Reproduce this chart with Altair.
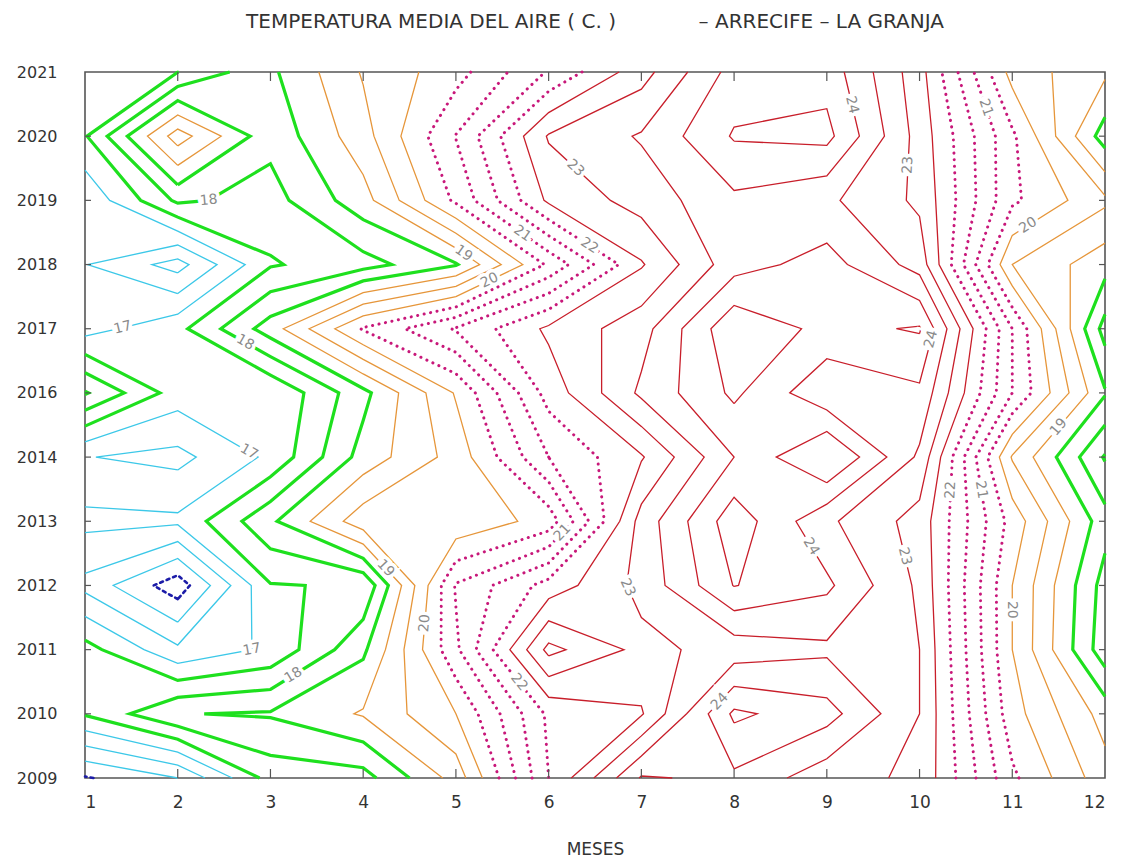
import json, math
from collections import defaultdict
import numpy as np
import pandas as pd
import altair as alt

# ---------------- data ----------------
MONTHS = [1, 2, 3, 4, 5, 6, 7, 8, 9, 10, 11, 12]
YEARS = ["2009", "2010", "2011", "2012", "2013", "2014",
         "2016", "2017", "2018", "2019", "2020", "2021"]

T2009 = [15.45, 16.0, 17.7, 17.8, 19.2, 22.0, 24.05, 23.9, 23.2, 22.9, 20.6, 19.2]
T2010 = [17.55, 18.48, 18.55, 19.05, 20.0, 22.1, 22.45, 24.6, 24.2, 23.0, 20.2, 18.8]
T2011 = [17.7, 16.6, 17.1, 18.4, 20.9, 23.65, 22.85, 23.2, 23.4, 23.0, 20.0, 17.7]
T2012 = [16.35, 15.2, 17.47, 17.55, 21.05, 22.2, 23.15, 24.52, 24.1, 22.9, 20.0, 17.8]
T2013 = [17.14, 17.1, 18.4, 19.8, 19.6, 20.2, 23.2, 24.8, 23.6, 22.8, 20.3, 18.2]
T2014 = [16.52, 16.35, 17.1, 18.7, 19.7, 21.5, 22.45, 24.0, 25.1, 23.4, 19.45, 17.45]
T2016 = [18.55, 17.25, 17.02, 18.35, 20.05, 22.2, 23.6, 24.6, 23.6, 23.9, 21.0, 18.55]
T2017 = [16.8, 17.35, 18.75, 20.55, 21.55, 22.6, 23.3, 24.9, 24.35, 24.55, 21.0, 17.8]
T2018 = [16.52, 15.8, 17.45, 17.8, 18.45, 20.6, 22.45, 23.8, 24.2, 23.3, 19.5, 18.7]
T2019 = [16.6, 18.1, 17.8, 18.8, 20.6, 22.6, 23.2, 23.9, 23.6, 22.9, 20.6, 19.6]
T2020 = [17.45, 19.75, 18.15, 19.3, 21.02, 23.05, 23.55, 24.55, 24.65, 22.8, 20.6, 18.25]
T2021 = [17.2, 17.49, 18.4, 19.55, 20.3, 21.55, 22.8, 24.2, 24.3, 22.7, 19.8, 19.1]

ROWS = [T2009, T2010, T2011, T2012, T2013, T2014,
        T2016, T2017, T2018, T2019, T2020, T2021]

LEVELS = [15.5, 16.0, 16.5, 17.0, 17.5, 18.0, 18.5, 19.0, 19.5, 20.0,
          20.5, 21.0, 21.5, 22.0, 22.5, 23.0, 23.5, 24.0, 24.5]

# labelled contours: (level, month position, year-row position)
LABELS = [
    (18, 2.35, 8.93), (17, 1.40, 7.06), (18, 2.73, 6.79), (17, 3.00, 5.66),
    (19, 5.07, 8.15), (20, 5.37, 7.73), (21, 5.80, 8.66), (22, 6.50, 8.43),
    (23, 6.37, 9.63), (24, 9.28, 10.49), (23, 9.90, 9.55), (21, 10.95, 10.56),
    (20, 11.10, 8.77), (24, 10.17, 6.82), (19, 11.54, 5.42), (22, 10.31, 4.49),
    (21, 10.66, 4.49), (23, 9.68, 3.40), (24, 8.80, 3.58), (20, 11.14, 2.62),
    (17, 3.00, 1.92), (18, 3.29, 1.50), (19, 4.16, 3.16), (20, 4.59, 2.42),
    (21, 6.23, 3.71), (23, 6.90, 3.00), (22, 5.67, 1.48), (24, 7.92, 1.09),
]

NB = "\u00a0"
TITLE = "TEMPERATURA MEDIA DEL AIRE ( C. )" + NB * 13 + "\u2013 ARRECIFE \u2013 LA GRANJA"
FONT = "DejaVu Sans"
W, H = 1020, 706

STYLE = {  # group: (color, width, dash)
    "blue": ("#1c1ca8", 2.6, [3, 4]),
    "cyan": ("#3cc8e8", 1.3, None),
    "green": ("#1ee01e", 3.2, None),
    "orange": ("#e6963a", 1.3, None),
    "magenta": ("#c8187a", 3.0, [0.1, 6.5]),
    "red": ("#c81e2a", 1.3, None),
}


def group_of(lv):
    if lv < 15.9:
        return "blue"
    if lv < 17.4:
        return "cyan"
    if lv < 18.9:
        return "green"
    if lv < 20.4:
        return "orange"
    if lv < 22.4:
        return "magenta"
    return "red"


# ---------------- marching squares ----------------
Z = np.array(ROWS, dtype=float)


def segments(level):
    lv = level + 1e-9
    out = []
    ny, nx = Z.shape
    for r in range(ny - 1):
        for c in range(nx - 1):
            v = [Z[r, c], Z[r, c + 1], Z[r + 1, c + 1], Z[r + 1, c]]
            p = [(c, r), (c + 1, r), (c + 1, r + 1), (c, r + 1)]
            cr = {}
            for e in range(4):
                a, b = e, (e + 1) % 4
                va, vb = v[a] - lv, v[b] - lv
                if (va < 0) != (vb < 0):
                    t = va / (va - vb)
                    cr[e] = (p[a][0] + t * (p[b][0] - p[a][0]),
                             p[a][1] + t * (p[b][1] - p[a][1]))
            if len(cr) == 2:
                e1, e2 = sorted(cr)
                out.append((cr[e1], cr[e2]))
            elif len(cr) == 4:
                centre = sum(v) / 4.0 - lv
                if (centre < 0) == (v[0] - lv < 0):
                    out.append((cr[0], cr[1]))
                    out.append((cr[2], cr[3]))
                else:
                    out.append((cr[3], cr[0]))
                    out.append((cr[1], cr[2]))
    return out


def key(pt):
    return (round(pt[0], 6), round(pt[1], 6))


def chain(segs):
    adj = defaultdict(list)
    for i, (a, b) in enumerate(segs):
        adj[key(a)].append(i)
        adj[key(b)].append(i)
    used = [False] * len(segs)
    order = sorted(range(len(segs)),
                   key=lambda i: min(len(adj[key(segs[i][0])]), len(adj[key(segs[i][1])])))
    paths = []

    def walk(cur):
        pts = []
        while True:
            nxt = None
            for j in adj[key(cur)]:
                if not used[j]:
                    nxt = j
                    break
            if nxt is None:
                return pts
            used[nxt] = True
            a, b = segs[nxt]
            cur = b if key(a) == key(cur) else a
            pts.append(cur)

    for i in order:
        if used[i]:
            continue
        used[i] = True
        a, b = segs[i]
        fwd = walk(b)
        back = walk(a)
        paths.append(back[::-1] + [a, b] + fwd)
    return paths


def to_px(x, y):
    return x * W / 11.0, H - y * H / 11.0


line_rows = []
seg_store = {}
pid = 0
for lv in LEVELS:
    segs = segments(lv)
    seg_store[lv] = segs
    for path in chain(segs):
        for k, (x, y) in enumerate(path):
            line_rows.append({"pid": pid, "ord": k, "x": x + 1, "y": y,
                              "level": lv, "grp": group_of(lv)})
        pid += 1
lines = pd.DataFrame(line_rows)

# label positions snapped to the nearest contour segment of that level
lab_rows = []
for lv, mx, ry in LABELS:
    tx, ty = to_px(mx - 1, ry)
    best = None
    for (a, b) in seg_store.get(float(lv), []):
        ax, ay = to_px(*a)
        bx, by = to_px(*b)
        dx, dy = bx - ax, by - ay
        L2 = dx * dx + dy * dy
        t = 0.0 if L2 == 0 else max(0.0, min(1.0, ((tx - ax) * dx + (ty - ay) * dy) / L2))
        px, py = ax + t * dx, ay + t * dy
        d = (px - tx) ** 2 + (py - ty) ** 2
        if best is None or d < best[0]:
            best = (d, px, py, dx, dy)
    if best is None:
        continue
    _, px, py, dx, dy = best
    ang = math.degrees(math.atan2(dy, dx))
    if ang > 90:
        ang -= 180
    if ang < -90:
        ang += 180
    lab_rows.append({"x": px / W * 11 + 1, "y": (H - py) / H * 11,
                     "txt": str(lv), "ang": ang % 360})
labels = pd.DataFrame(lab_rows)

# ---------------- chart ----------------
xs = alt.Scale(domain=[1, 12], nice=False, zero=False)
ys = alt.Scale(domain=[0, 11], nice=False, zero=False)
label_expr = "%s[datum.value]" % json.dumps(YEARS)

X_AXIS = alt.Axis(values=MONTHS, title="MESES", ticks=False, domain=False, grid=False,
                  labelFontSize=17, titleFontSize=17, labelFont=FONT, titleFont=FONT,
                  titleFontWeight="normal", labelColor="#333", titleColor="#333",
                  labelPadding=16, titlePadding=31)
Y_AXIS = alt.Axis(values=list(range(12)), labelExpr=label_expr, title="", ticks=False,
                  domain=False, grid=False, labelFontSize=16, labelFont=FONT,
                  labelColor="#333", labelPadding=28)


def X(field):
    return alt.X(field, scale=xs, axis=X_AXIS)


def Y(field):
    return alt.Y(field, scale=ys, axis=Y_AXIS)


base = alt.Chart(lines)
layers = []
for grp in ["cyan", "blue", "green", "orange", "magenta", "red"]:
    color, width, dash = STYLE[grp]
    kw = dict(color=color, strokeWidth=width, strokeJoin="miter")
    if dash is not None:
        kw["strokeDash"] = dash
        kw["strokeCap"] = "round"
    layers.append(base.transform_filter(alt.datum.grp == grp).mark_line(**kw).encode(
        x=X("x:Q"), y=Y("y:Q"), detail="pid:N", order="ord:Q"))

tb = alt.Chart(labels)
halo = tb.mark_text(fontSize=14, font=FONT, color="white", stroke="white",
                    strokeWidth=7).encode(
    x=X("x:Q"), y=Y("y:Q"), text="txt:N", angle=alt.Angle("ang:Q", scale=None))
txt = tb.mark_text(fontSize=14, font=FONT, color="#8a8a8a").encode(
    x=X("x:Q"), y=Y("y:Q"), text="txt:N", angle=alt.Angle("ang:Q", scale=None))

tick_color = "#555"
mt = alt.Chart(pd.DataFrame({"m": MONTHS[1:-1]}))
top_ticks = mt.mark_rule(color=tick_color, strokeWidth=1.2).encode(
    x=X("m:Q"), y=alt.value(0), y2=alt.value(9))
bot_ticks = mt.mark_rule(color=tick_color, strokeWidth=1.2).encode(
    x=X("m:Q"), y=alt.value(H - 9), y2=alt.value(H))
rt = alt.Chart(pd.DataFrame({"r": list(range(1, 11))}))
left_ticks = rt.mark_rule(color=tick_color, strokeWidth=1.2).encode(
    y=Y("r:Q"), x=alt.value(0), x2=alt.value(6))
right_ticks = rt.mark_rule(color=tick_color, strokeWidth=1.2).encode(
    y=Y("r:Q"), x=alt.value(W - 6), x2=alt.value(W))

chart = alt.layer(*layers, halo, txt, top_ticks, bot_ticks, left_ticks, right_ticks).properties(
    width=W, height=H,
    title=alt.TitleParams(text=TITLE, anchor="middle", fontSize=20, font=FONT,
                          fontWeight="normal", color="#333", offset=32),
    padding={"left": 77, "top": 64, "right": 8, "bottom": 85},
    autosize=alt.AutoSizeParams(type="none"),
).configure_view(stroke="#555", strokeWidth=1.6)

chart.save("out.html", embed_options={"renderer": "svg", "actions": False})
